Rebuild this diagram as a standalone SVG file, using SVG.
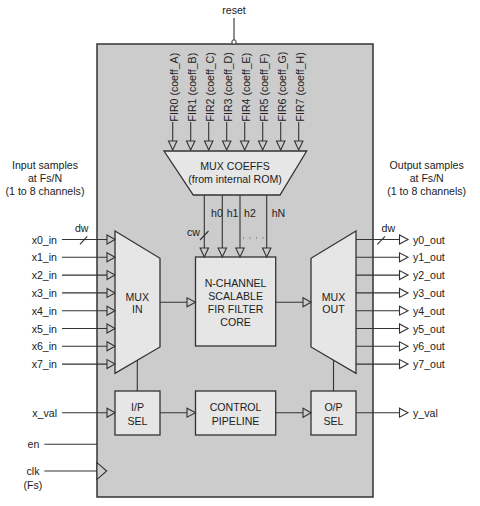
<svg xmlns="http://www.w3.org/2000/svg" width="480" height="506" viewBox="0 0 480 506">
<style>
text{font-family:"Liberation Sans",Arial,sans-serif;font-size:10.6px;fill:#222}
.m{text-anchor:middle}
.e{text-anchor:end}
.blk{fill:#e6e6e6;stroke:#333;stroke-width:1.3}
.ln{stroke:#333;stroke-width:1.1;fill:none}
.ai{fill:#cccccc;stroke:#333;stroke-width:1.1}
.ao{fill:#fff;stroke:#333;stroke-width:1.1}
</style>
<rect width="480" height="506" fill="#fff"/>
<g id="chip">
<rect x="97" y="44" width="276" height="453" fill="#cccccc" stroke="#333" stroke-width="1.5"/>
</g>
<g id="reset">
<text x="234" y="14" class="m">reset</text>
</g>
<g id="fir-labels">
<text transform="translate(178.2,121.5) rotate(-90)">FIR0 (coeff_A)</text>
<text transform="translate(196.2,121.5) rotate(-90)">FIR1 (coeff_B)</text>
<text transform="translate(214.2,121.5) rotate(-90)">FIR2 (coeff_C)</text>
<text transform="translate(232.2,121.5) rotate(-90)">FIR3 (coeff_D)</text>
<text transform="translate(250.2,121.5) rotate(-90)">FIR4 (coeff_E)</text>
<text transform="translate(268.2,121.5) rotate(-90)">FIR5 (coeff_F)</text>
<text transform="translate(286.2,121.5) rotate(-90)">FIR6 (coeff_G)</text>
<text transform="translate(304.2,121.5) rotate(-90)">FIR7 (coeff_H)</text>
</g>
<g id="mux-coeffs">
<polygon class="blk" points="164,151 306.7,151 280,195 193.3,195"/>
<text x="235" y="169.7" class="m">MUX COEFFS</text>
<text x="235" y="183.3" class="m">(from internal ROM)</text>
</g>
<g id="core">
<rect class="blk" x="195.5" y="257" width="80.2" height="89"/>
<text x="235.6" y="286.7" class="m">N-CHANNEL</text>
<text x="235.6" y="299.9" class="m">SCALABLE</text>
<text x="235.6" y="313.1" class="m">FIR FILTER</text>
<text x="235.6" y="326.3" class="m">CORE</text>
</g>
<g id="mux-in">
<polygon class="blk" points="115,231 160,258.3 160,347 115,373.3"/>
<text x="137.3" y="300.7" class="m">MUX</text>
<text x="137.3" y="313" class="m">IN</text>
</g>
<g id="mux-out">
<polygon class="blk" points="356,231 311,258.3 311,347 356,373.3"/>
<text x="333.5" y="300.7" class="m">MUX</text>
<text x="333.5" y="313" class="m">OUT</text>
</g>
<g id="ip-sel">
<rect class="blk" x="115" y="391" width="45" height="44"/>
<text x="137.5" y="410.5" class="m">I/P</text>
<text x="137.5" y="424.5" class="m">SEL</text>
</g>
<g id="control">
<rect class="blk" x="195.5" y="391" width="80.2" height="44"/>
<text x="235.6" y="410.5" class="m">CONTROL</text>
<text x="235.6" y="424.5" class="m">PIPELINE</text>
</g>
<g id="op-sel">
<rect class="blk" x="311" y="391" width="45" height="44"/>
<text x="333.5" y="410.5" class="m">O/P</text>
<text x="333.5" y="424.5" class="m">SEL</text>
</g>
<g id="input-labels">
<text x="45" y="169" class="m">Input samples</text>
<text x="45" y="182" class="m">at Fs/N</text>
<text x="45" y="195" class="m">(1 to 8 channels)</text>
<text x="81.7" y="232" class="m">dw</text>
<text x="57" y="243.5" class="e">x0_in</text>
<text x="57" y="261.3" class="e">x1_in</text>
<text x="57" y="279.1" class="e">x2_in</text>
<text x="57" y="296.9" class="e">x3_in</text>
<text x="57" y="314.7" class="e">x4_in</text>
<text x="57" y="332.5" class="e">x5_in</text>
<text x="57" y="350.3" class="e">x6_in</text>
<text x="57" y="368.1" class="e">x7_in</text>
<text x="57" y="416.7" class="e">x_val</text>
<text x="39.3" y="448.3" class="e">en</text>
<text x="33" y="475" class="m">clk</text>
<text x="33" y="489" class="m">(Fs)</text>
</g>
<g id="output-labels">
<text x="426.7" y="169" class="m">Output samples</text>
<text x="426.7" y="182" class="m">at Fs/N</text>
<text x="426.7" y="195" class="m">(1 to 8 channels)</text>
<text x="388.3" y="232" class="m">dw</text>
<text x="413" y="243.5">y0_out</text>
<text x="413" y="261.3">y1_out</text>
<text x="413" y="279.1">y2_out</text>
<text x="413" y="296.9">y3_out</text>
<text x="413" y="314.7">y4_out</text>
<text x="413" y="332.5">y5_out</text>
<text x="413" y="350.3">y6_out</text>
<text x="413" y="368.1">y7_out</text>
<text x="413" y="416.7">y_val</text>
</g>
<g id="bus-labels">
<text x="211" y="217">h0</text>
<text x="226.7" y="217">h1</text>
<text x="244" y="217">h2</text>
<text x="271.7" y="217">hN</text>
<text x="187" y="236">cw</text>
</g>
<g id="connectors">
<path class="ln" d="M234,18V40"/>
<circle cx="234" cy="42" r="2.2" fill="#fff" stroke="#333" stroke-width="1"/>
<path class="ln" d="M172.7,122V141M190.7,122V141M208.7,122V141M226.7,122V141M244.7,122V141M262.7,122V141M280.7,122V141M298.7,122V141"/>
<g class="ai">
<polygon points="168.5,141 176.9,141 172.7,150"/>
<polygon points="186.5,141 194.9,141 190.7,150"/>
<polygon points="204.5,141 212.9,141 208.7,150"/>
<polygon points="222.5,141 230.9,141 226.7,150"/>
<polygon points="240.5,141 248.9,141 244.7,150"/>
<polygon points="258.5,141 266.9,141 262.7,150"/>
<polygon points="276.5,141 284.9,141 280.7,150"/>
<polygon points="294.5,141 302.9,141 298.7,150"/>
</g>
<path class="ln" d="M204.3,195V248M222.3,195V248M240,195V248M266.7,195V248"/>
<path class="ln" d="M200,240L208.5,231"/>
<line x1="243" y1="238" x2="264" y2="238" stroke="#555" stroke-width="1" stroke-dasharray="1 5.5"/>
<g class="ai">
<polygon points="200.1,248 208.5,248 204.3,257"/>
<polygon points="218.1,248 226.5,248 222.3,257"/>
<polygon points="235.8,248 244.2,248 240,257"/>
<polygon points="262.5,248 270.9,248 266.7,257"/>
</g>
<path class="ln" d="M62,239.5H107M62,257.3H107M62,275.1H107M62,292.9H107M62,310.7H107M62,328.5H107M62,346.3H107M62,364.1H107M62,412.7H107"/>
<path class="ln" d="M80,244.3L87.3,236.3"/>
<g class="ai">
<polygon points="107,235 107,244 115,239.5"/>
<polygon points="107,252.8 107,261.8 115,257.3"/>
<polygon points="107,270.6 107,279.6 115,275.1"/>
<polygon points="107,288.4 107,297.4 115,292.9"/>
<polygon points="107,306.2 107,315.2 115,310.7"/>
<polygon points="107,324 107,333 115,328.5"/>
<polygon points="107,341.8 107,350.8 115,346.3"/>
<polygon points="107,359.6 107,368.6 115,364.1"/>
<polygon points="107,408.2 107,417.2 115,412.7"/>
</g>
<path class="ln" d="M356,239.5H399.5M356,257.3H399.5M356,275.1H399.5M356,292.9H399.5M356,310.7H399.5M356,328.5H399.5M356,346.3H399.5M356,364.1H399.5M356,412.7H399.5"/>
<path class="ln" d="M377.3,244.3L385,236.3"/>
<g class="ao">
<polygon points="399.5,235 399.5,244 408,239.5"/>
<polygon points="399.5,252.8 399.5,261.8 408,257.3"/>
<polygon points="399.5,270.6 399.5,279.6 408,275.1"/>
<polygon points="399.5,288.4 399.5,297.4 408,292.9"/>
<polygon points="399.5,306.2 399.5,315.2 408,310.7"/>
<polygon points="399.5,324 399.5,333 408,328.5"/>
<polygon points="399.5,341.8 399.5,350.8 408,346.3"/>
<polygon points="399.5,359.6 399.5,368.6 408,364.1"/>
<polygon points="399.5,408.2 399.5,417.2 408,412.7"/>
</g>
<path class="ln" d="M160,302.3H187M275.7,302.3H303M160,412.7H187M275.7,412.7H303"/>
<g class="ai">
<polygon points="187,297.8 187,306.8 195.5,302.3"/>
<polygon points="303,297.8 303,306.8 311,302.3"/>
<polygon points="187,408.2 187,417.2 195.5,412.7"/>
<polygon points="303,408.2 303,417.2 311,412.7"/>
</g>
<path class="ln" d="M137.3,360.3V391M333.5,360.3V391"/>
<path class="ln" d="M44.3,444.3H97M44.3,471H97"/>
<polygon points="97,462.7 106.7,471 97,479.3" fill="#cccccc" stroke="#333" stroke-width="1.1"/>
</g>
</svg>
